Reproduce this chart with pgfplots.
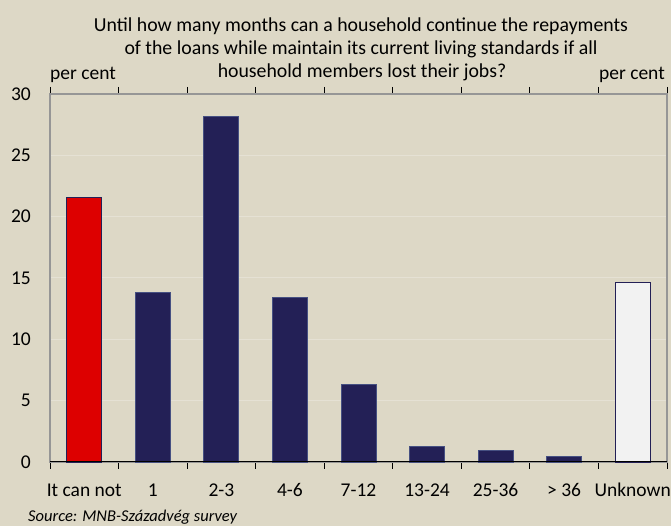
\documentclass[border=0pt]{standalone}
\usepackage{fontspec}
\setmainfont{Carlito}
\usepackage{pgfplots}
\pgfplotsset{compat=1.18}
\definecolor{bg}{RGB}{221,216,198}
\definecolor{gridc}{RGB}{229,225,212}
\definecolor{navy}{RGB}{35,32,86}
\definecolor{navyedge}{RGB}{70,80,130}
\definecolor{redbar}{RGB}{221,0,0}
\definecolor{whitebar}{RGB}{242,242,242}
\definecolor{framec}{RGB}{150,150,150}
\begin{document}%
\fontsize{19.5}{23}\selectfont%
\begin{tikzpicture}
\useasboundingbox (0pt,0pt) rectangle (671pt,526pt);
\fill[bg] (0pt,0pt) rectangle (671pt,526pt);
\begin{axis}[
  at={(50pt,64pt)}, anchor=south west,
  width=617pt, height=368pt, scale only axis,
  xmin=-0.5, xmax=8.5, ymin=0, ymax=30,
  ytick={0,5,...,30},
  xtick={0,...,8},
  xticklabels={It can not,1,2-3,4-6,7-12,13-24,25-36,> 36,Unknown},
  minor xtick={-0.5,0.5,...,8.5},
  major tick length=0pt,
  minor tick length=7pt,
  tick align=outside,
  minor x tick style={black, line width=0.9pt},
  axis line style={framec, line width=1.3pt},
  ymajorgrids, major grid style={gridc, line width=1pt},
  axis background/.style={fill=bg},
  /pgf/number format/assume math mode=true,
  every tick label/.append style={font=\fontsize{19.5}{23}\selectfont, text=black},
  yticklabel style={xshift=-12.5pt},
  xticklabel style={inner sep=0pt, text height=13pt, text depth=4pt, yshift=-21pt},
  clip=false,
]
\addplot[ybar, bar width=35pt, bar shift=0pt, fill=redbar, draw=navy, line width=0.8pt]
  coordinates {(0,21.6)};
\addplot[ybar, bar width=35pt, bar shift=0pt, fill=navy, draw=navyedge, line width=0.8pt]
  coordinates {(1,13.85) (2,28.15) (3,13.45) (4,6.35) (5,1.25) (6,0.92) (7,0.48)};
\addplot[ybar, bar width=35pt, bar shift=0pt, fill=whitebar, draw=navy, line width=0.8pt]
  coordinates {(8,14.65)};
\draw[black, line width=1pt] (axis cs:-0.5,0) -- (axis cs:8.5,0);
\end{axis}
\begin{scope}[font=\fontsize{19.8}{23}\selectfont]
\node[anchor=base] at (361pt,494pt) {Until how many months can a household continue the repayments};
\node[anchor=base] at (361pt,471pt) {of the loans while maintain its current living standards if all};
\node[anchor=base] at (362pt,448pt) {household members lost their jobs?};
\end{scope}
\node[anchor=base west, inner sep=0pt] at (50pt,446pt) {per cent};
\node[anchor=base east, inner sep=0pt] at (665pt,446pt) {per cent};
\node[anchor=base west, inner sep=0pt, font=\itshape\fontsize{16.5}{20}\selectfont] at (28pt,4.5pt) {Source: MNB-Századvég survey};
\end{tikzpicture}%
\end{document}
